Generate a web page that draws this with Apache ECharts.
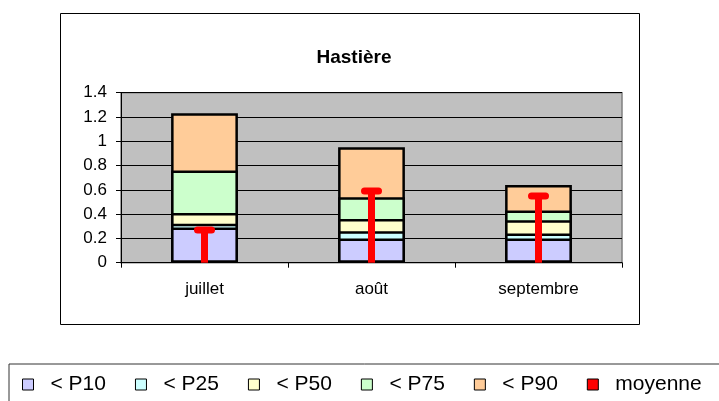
<!DOCTYPE html>
<html>
<head>
<meta charset="utf-8">
<script src="https://cdn.jsdelivr.net/npm/echarts@6/dist/echarts.min.js"></script>
<style>
  html, body { margin: 0; padding: 0; background: #fff; }
  #chart { width: 719px; height: 401px; }
</style>
</head>
<body>
<div id="chart"></div>
<script>
  // Hastière - percentiles par mois
  const categories = ['juillet', 'août', 'septembre']
  const p10 = [0.29, 0.20, 0.20]
  const p25 = [0.32, 0.26, 0.24]
  const p50 = [0.41, 0.36, 0.35]
  const p75 = [0.76, 0.54, 0.43]
  const p90 = [1.23, 0.95, 0.64]
  const moyenne = [0.27, 0.59, 0.55]
  const yTicks = [0, 0.2, 0.4, 0.6, 0.8, 1, 1.2, 1.4]

  const font = '"Liberation Sans", Arial, sans-serif'

  // bars overlap (barGap -100%), biggest drawn first so the smaller ones sit on top
  function pBar(name, data, color) {
    return {
      name: name,
      type: 'bar',
      data: data,
      barWidth: '40%',
      barGap: '-100%',
      itemStyle: { color: color, borderColor: '#000', borderWidth: 2.5 },
      emphasis: { disabled: true }
    }
  }

  let chart = echarts.init(document.getElementById('chart'))
  chart.setOption({
    animation: false,
    textStyle: { fontFamily: font },
    graphic: [
      {
        type: 'rect',
        shape: { x: 60.5, y: 13.5, width: 579, height: 311 },
        style: { fill: null, stroke: '#000', lineWidth: 1 },
        z: -10
      },
      {
        type: 'text',
        x: 354,
        y: 58,
        style: {
          text: 'Hastière',
          font: 'bold 19px ' + font,
          fill: '#000',
          textAlign: 'center',
          textVerticalAlign: 'middle'
        }
      }
    ],
    grid: {
      left: 121,
      right: 97,
      top: 92.7,
      bottom: 138.3,
      show: true,
      backgroundColor: '#c0c0c0',
      borderColor: '#808080',
      borderWidth: 1.5
    },
    legend: {
      left: 9,
      top: 364,
      width: 760,
      padding: [10, 40, 30, 13],
      borderColor: '#333',
      borderWidth: 1,
      itemWidth: 11,
      itemHeight: 11,
      itemGap: 29,
      icon: 'rect',
      itemStyle: { borderColor: '#000', borderWidth: 1 },
      textStyle: { fontSize: 21, color: '#000', fontFamily: font, padding: [0, 0, 0, 12] },
      data: ['< P10', '< P25', '< P50', '< P75', '< P90', 'moyenne']
    },
    xAxis: {
      type: 'category',
      data: categories,
      axisLine: { lineStyle: { color: '#000', width: 1 } },
      axisTick: { show: true, length: 5, lineStyle: { color: '#000' } },
      axisLabel: { color: '#000', fontSize: 17, margin: 18 }
    },
    yAxis: {
      type: 'value',
      min: 0,
      max: 1.4,
      interval: 0.2,
      axisLine: { show: true, lineStyle: { color: '#000', width: 1 } },
      axisTick: { show: true, length: 5, lineStyle: { color: '#000' } },
      axisLabel: {
        color: '#000',
        fontSize: 17,
        margin: 14,
        formatter: function(v) {
          let t = yTicks.find(x => Math.abs(x - v) < 1e-9)
          return String(t !== undefined ? t : v)
        }
      },
      splitLine: { show: true, lineStyle: { color: '#000', width: 1 } }
    },
    series: [
      pBar('< P90', p90, '#ffcc99'),
      pBar('< P75', p75, '#ccffcc'),
      pBar('< P50', p50, '#ffffcc'),
      pBar('< P25', p25, '#ccffff'),
      pBar('< P10', p10, '#ccccff'),
      {
        name: 'moyenne',
        type: 'custom',
        data: moyenne.map((v, i) => [i, v]),
        itemStyle: { color: '#ff0000' },
        z: 5,
        renderItem: function(params, api) {
          let top = api.coord([api.value(0), api.value(1)])
          let base = api.coord([api.value(0), 0])
          return {
            type: 'group',
            children: [
              {
                type: 'rect',
                shape: { x: top[0] - 3.5, y: top[1], width: 7, height: base[1] - top[1] },
                style: { fill: '#ff0000' }
              },
              {
                type: 'rect',
                shape: { x: top[0] - 10.5, y: top[1] - 3.5, width: 21, height: 7, r: 3.5 },
                style: { fill: '#ff0000' }
              }
            ]
          }
        }
      }
    ]
  })
</script>
</body>
</html>
